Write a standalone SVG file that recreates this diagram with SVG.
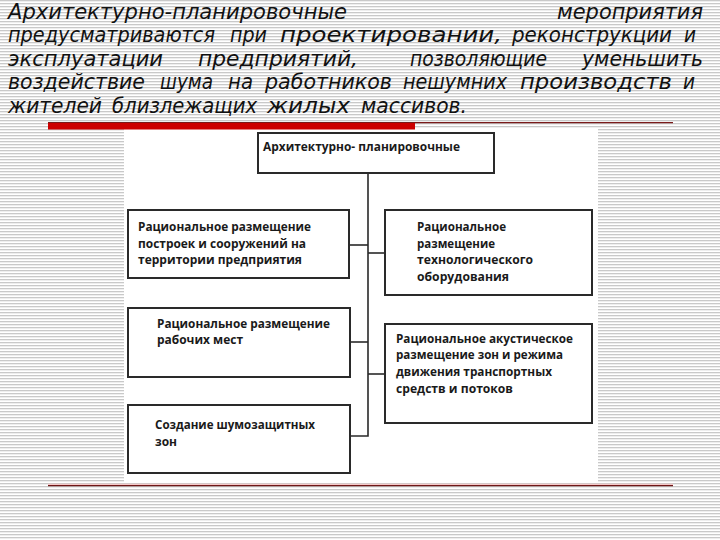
<svg xmlns="http://www.w3.org/2000/svg" width="720" height="540" viewBox="0 0 720 540">
<defs>
<pattern id="stripes" patternUnits="userSpaceOnUse" width="8" height="3">
<rect x="0" y="0" width="8" height="3" fill="#ffffff"/>
<rect x="0" y="0" width="8" height="1.3" fill="#c9c9c9"/>
</pattern>
<style>
.main{font-family:"DejaVu Sans Condensed","DejaVu Sans","Liberation Sans",sans-serif;font-stretch:condensed;font-style:italic;font-size:21px;fill:#111}
.box{fill:#fff;stroke:#2a2a2a;stroke-width:2}
.lbl{font-family:"Open Sans","Noto Sans","DejaVu Sans",sans-serif;font-weight:700;font-size:12px;fill:#1a1a1a}
.con{stroke:#2a2a2a;stroke-width:1.6;fill:none}
</style>
</defs>
<rect x="0" y="0" width="720" height="540" fill="url(#stripes)"/>
<rect x="124" y="128" width="474" height="354" fill="#fff"/>
<g id="heading">
<text class="main" y="19"><tspan x="8" textLength="339" lengthAdjust="spacingAndGlyphs">Архитектурно-планировочные</tspan><tspan x="557" textLength="146" lengthAdjust="spacingAndGlyphs">мероприятия</tspan></text>
<text class="main" y="42"><tspan x="8" textLength="207" lengthAdjust="spacingAndGlyphs">предусматриваются</tspan><tspan x="230" textLength="37" lengthAdjust="spacingAndGlyphs">при</tspan><tspan x="280" textLength="222" lengthAdjust="spacingAndGlyphs">проектировании,</tspan><tspan x="512" textLength="160" lengthAdjust="spacingAndGlyphs">реконструкции</tspan><tspan x="684" textLength="12" lengthAdjust="spacingAndGlyphs">и</tspan></text>
<text class="main" y="65.5"><tspan x="8" textLength="155" lengthAdjust="spacingAndGlyphs">эксплуатации</tspan><tspan x="198" textLength="160" lengthAdjust="spacingAndGlyphs">предприятий,</tspan><tspan x="410" textLength="137" lengthAdjust="spacingAndGlyphs">позволяющие</tspan><tspan x="582" textLength="121" lengthAdjust="spacingAndGlyphs">уменьшить</tspan></text>
<text class="main" y="89"><tspan x="8" textLength="137" lengthAdjust="spacingAndGlyphs">воздействие</tspan><tspan x="160" textLength="53" lengthAdjust="spacingAndGlyphs">шума</tspan><tspan x="228" textLength="25" lengthAdjust="spacingAndGlyphs">на</tspan><tspan x="265" textLength="127" lengthAdjust="spacingAndGlyphs">работников</tspan><tspan x="403" textLength="104" lengthAdjust="spacingAndGlyphs">нешумних</tspan><tspan x="520" textLength="152" lengthAdjust="spacingAndGlyphs">производств</tspan><tspan x="683" textLength="12" lengthAdjust="spacingAndGlyphs">и</tspan></text>
<text class="main" y="112.5"><tspan x="8" textLength="94" lengthAdjust="spacingAndGlyphs">жителей</tspan><tspan x="112" textLength="145" lengthAdjust="spacingAndGlyphs">близлежащих</tspan><tspan x="267" textLength="83" lengthAdjust="spacingAndGlyphs">жилых</tspan><tspan x="361" textLength="106" lengthAdjust="spacingAndGlyphs">массивов.</tspan></text>
</g>
<g id="rules">
<line x1="48" y1="122.7" x2="673" y2="122.7" stroke="#7a1a1a" stroke-width="1.2"/>
<rect x="48" y="123" width="367" height="6.5" fill="#cc0000"/>
<line x1="48" y1="484.3" x2="673" y2="484.3" stroke="#f6c8c8" stroke-width="1.2"/>
<line x1="48" y1="485.7" x2="673" y2="485.7" stroke="#6e1818" stroke-width="1.2"/>
</g>
<g id="connectors">
<polyline class="con" points="368,173 368,436 350,436"/>
<line class="con" x1="349" y1="245" x2="368" y2="245"/>
<line class="con" x1="368" y1="253" x2="385" y2="253"/>
<line class="con" x1="350" y1="342" x2="368" y2="342"/>
<line class="con" x1="368" y1="374" x2="385" y2="374"/>
</g>
<g id="n-top">
<rect class="box" x="258" y="133" width="236" height="40"/>
<text class="lbl" x="263" y="151" textLength="197" lengthAdjust="spacingAndGlyphs">Архитектурно- планировочные</text>
</g>
<g id="n-left1">
<rect class="box" x="128" y="210" width="221" height="68"/>
<text class="lbl" x="138" y="231" textLength="173" lengthAdjust="spacingAndGlyphs">Рациональное размещение</text>
<text class="lbl" x="138" y="247.5" textLength="168" lengthAdjust="spacingAndGlyphs">построек и сооружений на</text>
<text class="lbl" x="138" y="264" textLength="164" lengthAdjust="spacingAndGlyphs">территории предприятия</text>
</g>
<g id="n-right1">
<rect class="box" x="385" y="210" width="207" height="85"/>
<text class="lbl" x="417" y="231" textLength="89" lengthAdjust="spacingAndGlyphs">Рациональное</text>
<text class="lbl" x="417" y="247.5" textLength="78" lengthAdjust="spacingAndGlyphs">размещение</text>
<text class="lbl" x="417" y="264" textLength="116" lengthAdjust="spacingAndGlyphs">технологического</text>
<text class="lbl" x="417" y="281" textLength="92" lengthAdjust="spacingAndGlyphs">оборудования</text>
</g>
<g id="n-left2">
<rect class="box" x="128" y="308" width="222" height="69"/>
<text class="lbl" x="157" y="327.5" textLength="173" lengthAdjust="spacingAndGlyphs">Рациональное размещение</text>
<text class="lbl" x="157" y="344" textLength="86" lengthAdjust="spacingAndGlyphs">рабочих мест</text>
</g>
<g id="n-left3">
<rect class="box" x="128" y="405" width="222" height="68"/>
<text class="lbl" x="155" y="429" textLength="160" lengthAdjust="spacingAndGlyphs">Создание шумозащитных</text>
<text class="lbl" x="155" y="446" textLength="22" lengthAdjust="spacingAndGlyphs">зон</text>
</g>
<g id="n-right2">
<rect class="box" x="385" y="324" width="207" height="99"/>
<text class="lbl" x="396" y="342.5" textLength="177" lengthAdjust="spacingAndGlyphs">Рациональное акустическое</text>
<text class="lbl" x="396" y="359" textLength="167" lengthAdjust="spacingAndGlyphs">размещение зон и режима</text>
<text class="lbl" x="396" y="375.5" textLength="156" lengthAdjust="spacingAndGlyphs">движения транспортных</text>
<text class="lbl" x="396" y="393" textLength="117" lengthAdjust="spacingAndGlyphs">средств и потоков</text>
</g>
</svg>
